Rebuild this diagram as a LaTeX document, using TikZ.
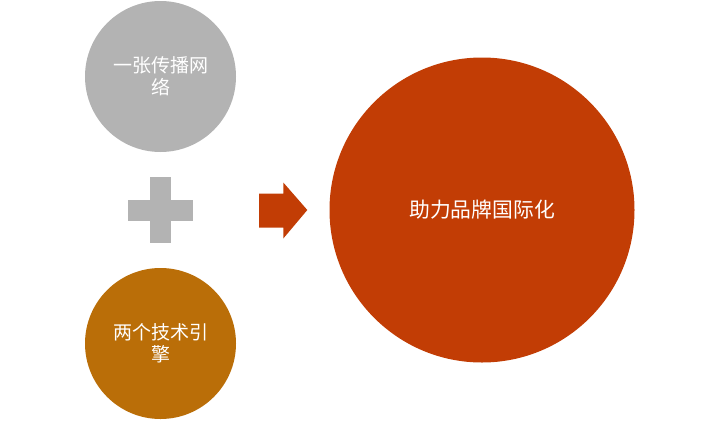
\documentclass[tikz,border=0pt]{standalone}
\usepackage{fontspec}
\setmainfont{Noto Sans CJK SC}
\definecolor{netgrey}{RGB}{179,179,179}
\definecolor{enginebrown}{RGB}{186,110,8}
\definecolor{brandred}{RGB}{194,61,5}
\tikzset{bubble/.style={circle,inner sep=0pt,text=white,align=center}}
\begin{document}
\begin{tikzpicture}[x=1pt,y=-1pt]
\useasboundingbox (0,0) rectangle (720,421);

\node[bubble,fill=netgrey,minimum size=151pt,font=\fontsize{19}{22}\selectfont] (net) at (160.5,76.5) {一张传播网\\络};
\node[bubble,fill=enginebrown,minimum size=151pt,font=\fontsize{19}{22}\selectfont] (engine) at (160.5,343.5) {两个技术引\\擎};
\node[bubble,fill=brandred,minimum size=305pt,font=\fontsize{20.8}{24}\selectfont] (brand) at (482,210) {助力品牌国际化};

\fill[netgrey] (128.3,200) rectangle (193.3,220.7);
\fill[netgrey] (150.3,177.3) rectangle (171.3,242.7);

\fill[brandred] (259,193.5) -- (283.3,193.5) -- (283.3,182.5) -- (307.3,210)
  -- (283.3,238.5) -- (283.3,227.5) -- (259,227.5) -- cycle;
\end{tikzpicture}
\end{document}
